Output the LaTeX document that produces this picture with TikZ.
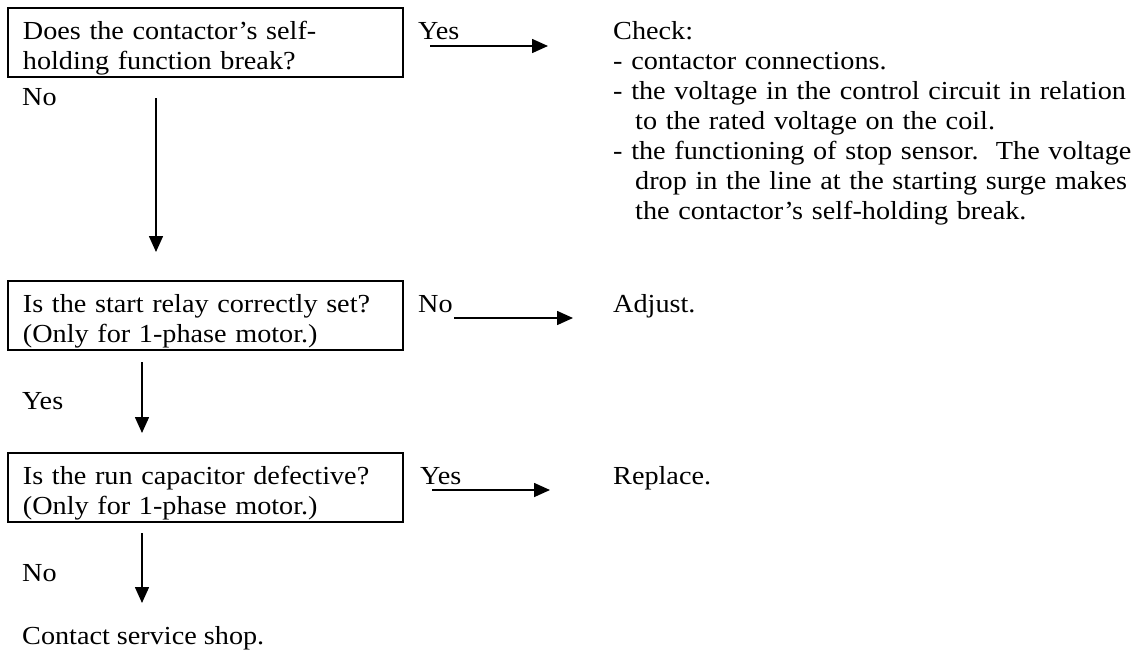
\documentclass[tikz,border=0pt]{standalone}
\usepackage{fontspec}
\setmainfont{Liberation Serif}[FakeStretch=1.085]
\usetikzlibrary{arrows.meta}
\begin{document}
\begin{tikzpicture}[x=1pt,y=-1pt,
  txt/.style={font=\fontsize{26}{30}\selectfont, inner sep=0pt, align=left},
  qbox/.style={txt, draw, line width=1.8pt, anchor=north west,
    minimum width=395pt, text width=365pt, inner xsep=14pt, inner ysep=0pt,
    text height=32pt, text depth=37pt},
  lbl/.style={txt, anchor=base west},
  flow/.style={line width=1.6pt, -{Triangle[length=16pt,width=14pt]}}
]
\useasboundingbox (0,0) rectangle (1145,656);

% question boxes
\node[qbox] (q1) at (7,7) {Does the contactor’s self-\\holding function break?};
\node[qbox] (q2) at (7,280) {Is the start relay correctly set?\\(Only for 1-phase motor.)};
\node[qbox] (q3) at (7,452) {Is the run capacitor defective?\\(Only for 1-phase motor.)};

% answers on the right
\node[txt, anchor=north west, text width=530pt, text height=32pt] (a1) at (613,7) {Check:\\
- contactor connections.\\
- the voltage in the control circuit in relation\\
\hspace*{22pt}to the rated voltage on the coil.\\
- the functioning of stop sensor.\ \ The voltage\\
\hspace*{22pt}drop in the line at the starting surge makes\\
\hspace*{22pt}the contactor’s self-holding break.};
\node[lbl] (a2) at (613,312) {Adjust.};
\node[lbl] (a3) at (613,484) {Replace.};
\node[lbl] (end) at (22,644) {Contact service shop.};

% branch labels
\node[lbl] (y1) at (418,39) {Yes};
\node[lbl] (n2) at (418,312) {No};
\node[lbl] (y3) at (420,484) {Yes};
\node[lbl] (n1) at (22,105) {No};
\node[lbl] (y2) at (22,409) {Yes};
\node[lbl] (n3) at (22,581) {No};

% arrow end points
\coordinate (r1s) at (430,46);  \coordinate (r1e) at (548,46);
\coordinate (r2s) at (454,318); \coordinate (r2e) at (573,318);
\coordinate (r3s) at (432,490); \coordinate (r3e) at (550,490);
\coordinate (d1s) at (156,98);  \coordinate (d1e) at (156,252);
\coordinate (d2s) at (142,362); \coordinate (d2e) at (142,433);
\coordinate (d3s) at (142,533); \coordinate (d3e) at (142,603);

\draw[flow] (r1s) -- (r1e);
\draw[flow] (r2s) -- (r2e);
\draw[flow] (r3s) -- (r3e);
\draw[flow] (d1s) -- (d1e);
\draw[flow] (d2s) -- (d2e);
\draw[flow] (d3s) -- (d3e);
\end{tikzpicture}
\end{document}
